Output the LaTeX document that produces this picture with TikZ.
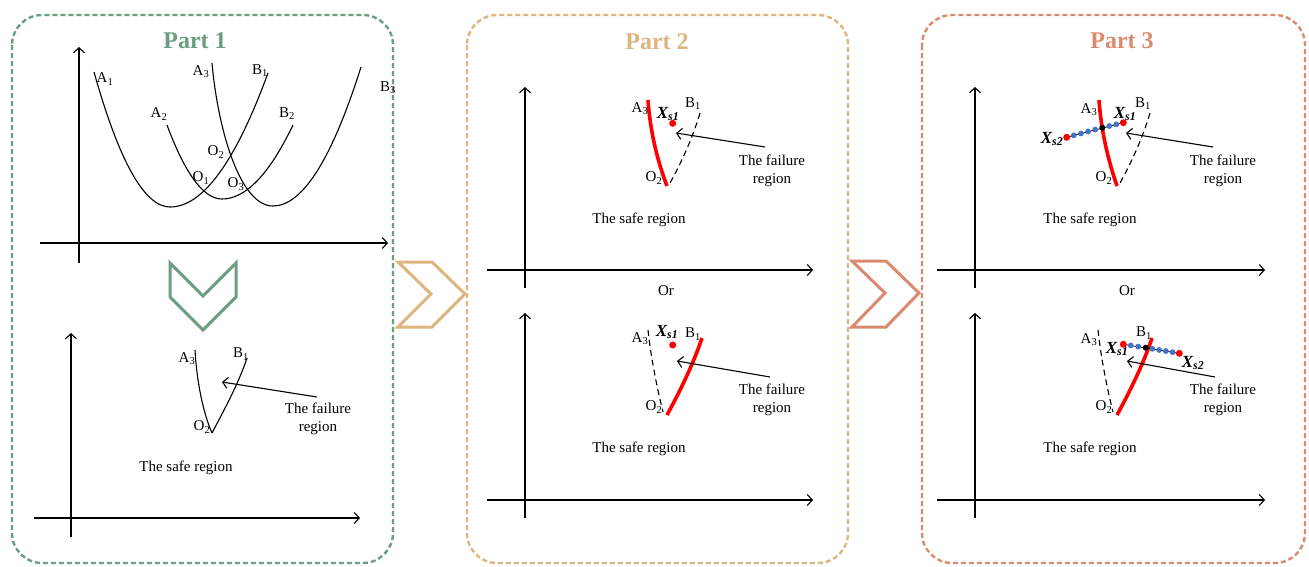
\documentclass[tikz,border=0pt]{standalone}
\usepackage{fontspec}
\setmainfont{Liberation Serif}
\usetikzlibrary{arrows.meta,calc}
\definecolor{cgreen}{HTML}{6B9E80}
\definecolor{ctan}{HTML}{DDB57E}
\definecolor{csalmon}{HTML}{DA8A6E}
\definecolor{cblue}{HTML}{4472C4}
\tikzset{
 box/.style={line width=2.4pt, dash pattern=on 5pt off 3pt, rounded corners=30pt},
 axis/.style={line width=1.1pt, -{Straight Barb[length=5pt,width=11pt]}},
 crv/.style={line width=1.1pt},
 redc/.style={line width=3.6pt, red},
 dsh/.style={line width=1.1pt, dash pattern=on 6pt off 4pt},
 ptr/.style={line width=1.1pt, -{Straight Barb[length=5pt,width=11pt]}},
 lbl/.style={font=\fontsize{15}{17}\selectfont, inner sep=0pt},
 txt/.style={font=\fontsize{15}{18}\selectfont, align=center, inner sep=0pt},
 xs/.style={font=\fontsize{17}{19}\selectfont\bfseries\itshape, inner sep=0pt},
 ttl/.style={font=\fontsize{24}{28}\selectfont\bfseries, inner sep=0pt},
 chev/.style={line width=3pt, line join=miter},
 rdot/.style={circle, fill=red, inner sep=0pt, minimum size=7pt},
 bdot/.style={circle, fill=cblue, inner sep=0pt, minimum size=5.8pt},
 kdot/.style={circle, fill=black, inner sep=0pt, minimum size=6pt},
 seg/.style={line width=0.8pt},
}
\begin{document}
\begin{tikzpicture}[x=1pt,y=-1pt]
\useasboundingbox (0,0) rectangle (1309,566);

% ---------- boxes ----------
\draw[box, cgreen] (12,15) rectangle (393,563);
\draw[box, ctan] (467,15) rectangle (848,563);
\draw[box, csalmon] (922,15) rectangle (1305,563);

\node[ttl, text=cgreen] (t1) at (195,41) {Part 1};
\node[ttl, text=ctan] (t2) at (657,42) {Part 2};
\node[ttl, text=csalmon] (t3) at (1122,41) {Part 3};

% ---------- chevrons ----------
\draw[chev, cgreen] (170,263) -- (203,296) -- (236,263) -- (236,297) -- (203,330) -- (170,297) -- cycle;
\draw[chev, ctan] (398,262) -- (432,262) -- (465,294) -- (432,327) -- (398,327) -- (431,294) -- cycle;
\draw[chev, csalmon] (852,261) -- (886,261) -- (919,293) -- (886,327) -- (852,327) -- (885,293) -- cycle;

% ---------- Part 1 top ----------
\draw[axis] (79,263) -- (79,47);
\draw[axis] (40,243) -- (388,243);
% curve 1
\draw[crv] (94,72) .. controls (119.3,162) and (144.7,207) .. (170,207)
  .. controls (202.7,207) and (235.3,162.3) .. (268,73);
% curve 2
\draw[crv] (167,125) .. controls (185.3,174.3) and (203.7,199) .. (222,199)
  .. controls (245.7,199) and (269.3,174.3) .. (293,125);
% curve 3
\draw[crv] (212,63) .. controls (218,130) and (240,206) .. (273,206)
  .. controls (302.3,206) and (331.7,159.7) .. (361,67);
\node[lbl] (a1) at (105,79) {A\textsubscript{1}};
\node[lbl] (a3) at (201,72) {A\textsubscript{3}};
\node[lbl] (b1) at (260,71) {B\textsubscript{1}};
\node[lbl] (a2) at (159,114) {A\textsubscript{2}};
\node[lbl] (b2) at (287,114) {B\textsubscript{2}};
\node[lbl] (o2) at (216,152) {O\textsubscript{2}};
\node[lbl] (o1) at (201,178) {O\textsubscript{1}};
\node[lbl] (o3) at (236,184) {O\textsubscript{3}};
\node[lbl] (b3) at (388,88) {B\textsubscript{3}};

% ---------- Part 1 bottom ----------
\draw[axis] (71,537) -- (71,333);
\draw[axis] (34,518) -- (360,518);
\draw[crv] (195,350) .. controls (197,385) and (204,415) .. (212,433);
\draw[crv] (212,433) .. controls (224,410) and (238,385) .. (247,358);
\node[lbl] (qa3) at (187,359) {A\textsubscript{3}};
\node[lbl] (qb1) at (241,354) {B\textsubscript{1}};
\node[lbl] (qo2) at (202,427) {O\textsubscript{2}};
\node[txt] (qf) at (318,419) {The failure\\region};
\coordinate (qfs) at (317,397);
\coordinate (qfe) at (222,382);
\draw[ptr] (qfs) -- (qfe);
\node[txt] (qs) at (186,468) {The safe region};

% ---------- Part 2 top ----------
\draw[axis] (525,288) -- (525,87);
\draw[axis] (487,270) -- (813,270);
\draw[redc] (648,100) .. controls (650,130) and (657,160) .. (667,186);
\draw[dsh] (700,113) .. controls (692,140) and (680,165) .. (670,183);
\node[lbl] (ra3) at (640,109) {A\textsubscript{3}};
\node[lbl] (rb1) at (693,104) {B\textsubscript{1}};
\node[lbl] (ro2) at (654,178) {O\textsubscript{2}};
\node[xs] (rxs) at (668,114) {X\textsubscript{s1}};
\node[rdot] (rd) at (672.7,123.3) {};
\node[txt] (rf) at (772,171) {The failure\\region};
\coordinate (rfs) at (765,147);
\coordinate (rfe) at (676,133);
\draw[ptr] (rfs) -- (rfe);
\node[txt] (rs) at (639,220) {The safe region};
\node[txt] (ror) at (666,291) {Or};

% ---------- Part 2 bottom ----------
\draw[axis] (525,518) -- (525,313);
\draw[axis] (487,500) -- (813,500);
\draw[dsh] (648,330) .. controls (651,358) and (657,388) .. (663,412);
\draw[redc] (667,415) .. controls (679,393) and (693,365) .. (702,338);
\node[lbl] (sa3) at (640,339) {A\textsubscript{3}};
\node[lbl] (sb1) at (693,334) {B\textsubscript{1}};
\node[lbl] (so2) at (654,407) {O\textsubscript{2}};
\node[xs] (sxs) at (667,332) {X\textsubscript{s1}};
\node[rdot] (sd) at (672.7,345) {};
\node[txt] (sf) at (772,400) {The failure\\region};
\coordinate (sfs) at (770,377);
\coordinate (sfe) at (677,361);
\draw[ptr] (sfs) -- (sfe);
\node[txt] (ss) at (639,449) {The safe region};

% ---------- Part 3 top ----------
\draw[axis] (975,288) -- (975,87);
\draw[axis] (937,270) -- (1265,270);
\draw[redc] (1099,100) .. controls (1101,130) and (1108,160) .. (1117,186);
\draw[dsh] (1150,113) .. controls (1142,140) and (1130,165) .. (1120,183);
\node[lbl] (ua3) at (1089,110) {A\textsubscript{3}};
\node[lbl] (ub1) at (1143,104) {B\textsubscript{1}};
\node[lbl] (uo2) at (1104,178) {O\textsubscript{2}};
\node[xs] (uxs1) at (1125,114) {X\textsubscript{s1}};
\node[xs] (uxs2) at (1052,139) {X\textsubscript{s2}};
\node[txt] (uf) at (1223,171) {The failure\\region};
\coordinate (ufs) at (1213,147);
\coordinate (ufe) at (1126,133);
\draw[ptr] (ufs) -- (ufe);
\node[txt] (us) at (1090,220) {The safe region};
\node[txt] (uor) at (1127,291) {Or};
\coordinate (ua) at (1066.7,137.3);
\coordinate (uk) at (1102.3,127.7);
\coordinate (ub) at (1123.3,122.7);
\draw[seg] (ua) -- (ub);
\foreach \t in {0.2,0.4,0.6,0.8} \node[bdot] at ($(ua)!\t!(uk)$) {};
\foreach \t in {0.333,0.667} \node[bdot] at ($(uk)!\t!(ub)$) {};
\node[rdot] (ud2) at (ua) {};
\node[rdot] (ud1) at (ub) {};
\node[kdot] (udk) at (uk) {};

% ---------- Part 3 bottom ----------
\draw[axis] (975,518) -- (975,313);
\draw[axis] (937,500) -- (1265,500);
\draw[dsh] (1098,330) .. controls (1101,358) and (1107,388) .. (1113,412);
\draw[redc] (1117,415) .. controls (1129,393) and (1143,365) .. (1152,338);
\node[lbl] (va3) at (1089,340) {A\textsubscript{3}};
\node[lbl] (vb1) at (1144,333) {B\textsubscript{1}};
\node[lbl] (vo2) at (1104,407) {O\textsubscript{2}};
\node[xs] (vxs1) at (1117,349) {X\textsubscript{s1}};
\node[xs] (vxs2) at (1193,363) {X\textsubscript{s2}};
\node[txt] (vf) at (1223,400) {The failure\\region};
\coordinate (vfs) at (1215,377);
\coordinate (vfe) at (1127,361);
\draw[ptr] (vfs) -- (vfe);
\node[txt] (vs) at (1090,449) {The safe region};
\coordinate (va) at (1123.3,344.3);
\coordinate (vk) at (1145.7,347.7);
\coordinate (vb) at (1179.3,353.3);
\draw[seg] (va) -- (vb);
\foreach \t in {0.333,0.667} \node[bdot] at ($(va)!\t!(vk)$) {};
\foreach \t in {0.2,0.4,0.6,0.8} \node[bdot] at ($(vk)!\t!(vb)$) {};
\node[rdot] (vd1) at (va) {};
\node[rdot] (vd2) at (vb) {};
\node[kdot] (vdk) at (vk) {};
\end{tikzpicture}
\end{document}
